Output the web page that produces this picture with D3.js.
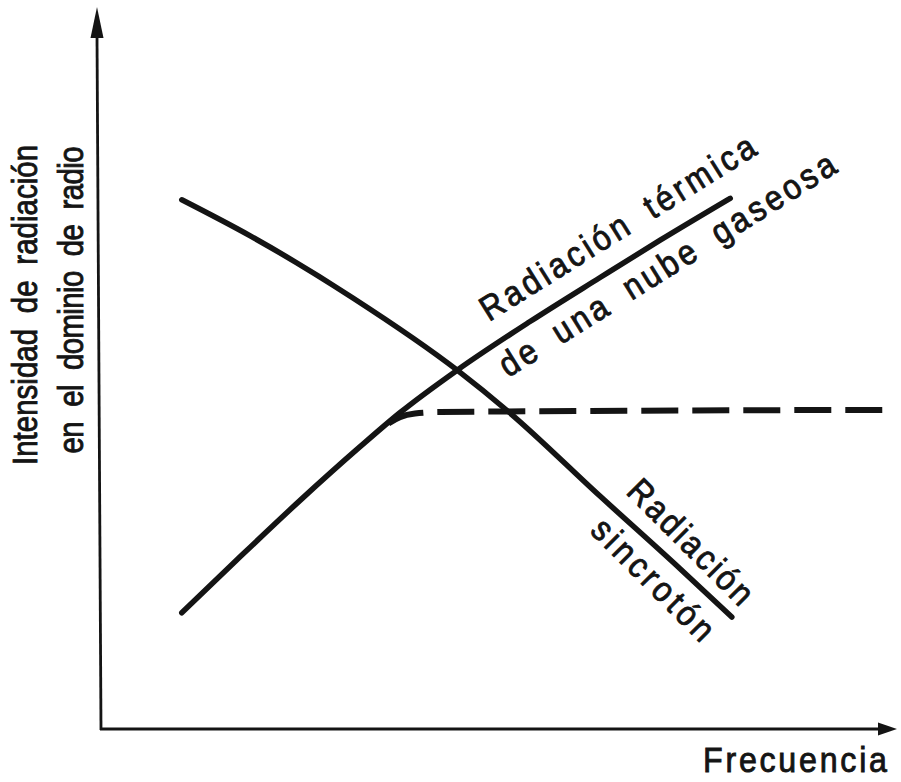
<!DOCTYPE html>
<html>
<head>
<meta charset="utf-8">
<script src="https://cdn.jsdelivr.net/npm/d3@7"></script>
<style>
  html, body { margin: 0; padding: 0; background: #fff; }
  svg { display: block; }
  text { font-family: "Liberation Sans", Arial, Helvetica, sans-serif; fill: #141414; stroke: #141414; stroke-width: 0.9px; word-spacing: 9px; }
</style>
</head>
<body>
<svg id="chart" width="901" height="782"></svg>
<script>
// Frequency on a relative 0–100 scale, intensity on a relative 0–100 scale
const synchrotronFreq      = [10.4, 19.0, 31.9, 45.0, 51.6, 62.9, 73.0, 79.5];
const synchrotronIntensity = [73.3, 68.3, 59.7, 49.7, 43.8, 32.3, 22.2, 15.5];

const thermalFreq      = [10.4, 17.3, 25.3, 32.8, 37.8, 45.0, 54.1, 62.9, 70.5, 79.3];
const thermalIntensity = [16.1, 23.4, 31.7, 39.1, 43.8, 49.7, 56.4, 62.5, 67.7, 73.5];

// Saturated (optically thick) branch of the thermal emission
const plateauFreq      = [35.9, 37.8, 39.7, 42.8, 98.4];
const plateauIntensity = [42.0, 43.2, 43.7, 43.9, 44.2];

const yTitleLines      = ["Intensidad de radiación", "en el dominio de radio"];
const xTitle           = "Frecuencia";
const thermalLines     = ["Radiación térmica", "de una nube gaseosa"];
const synchrotronLines = ["Radiación", "sincrotón"];

const svg = d3.select("#chart");
const ink = "#141414";

const x = d3.scaleLinear().domain([0, 100]).range([99, 895]);
const y = d3.scaleLinear().domain([0, 100]).range([729, 7]);

const zip = (xs, ys) => xs.map((v, i) => ({ f: v, i: ys[i] }));

const line = d3.line()
  .x(d => x(d.f))
  .y(d => y(d.i))
  .curve(d3.curveMonotoneX);

// Axes: plain lines with arrowheads, no ticks
const axes = svg.append("g").attr("stroke", ink).attr("stroke-width", 2.8).attr("fill", "none");
axes.append("line")
  .attr("x1", x(0) + 2).attr("y1", y(0) + 1)
  .attr("x2", x(0) - 2).attr("y2", y(96));
axes.append("line")
  .attr("x1", x(0) + 1).attr("y1", y(0))
  .attr("x2", x(98)).attr("y2", y(0));

const heads = svg.append("g").attr("fill", ink);
{
  const tx = x(0) - 2, ty = y(100);
  heads.append("path").attr("d", `M${tx},${ty} L${tx - 6.5},${ty + 31} L${tx + 6.5},${ty + 31} Z`);
}
{
  const tx = x(100) + 2, ty = y(0);
  heads.append("path").attr("d", `M${tx},${ty} L${tx - 19},${ty - 6.5} L${tx - 19},${ty + 6.5} Z`);
}

// Curves
const curves = svg.append("g")
  .attr("fill", "none")
  .attr("stroke", ink)
  .attr("stroke-width", 5.5)
  .attr("stroke-linecap", "round")
  .attr("stroke-linejoin", "round");

curves.append("path").attr("d", line(zip(synchrotronFreq, synchrotronIntensity)));
curves.append("path").attr("d", line(zip(thermalFreq, thermalIntensity)));

const plateau = curves.append("path")
  .attr("d", line(zip(plateauFreq, plateauIntensity)))
  .attr("stroke-width", 6)
  .attr("stroke-linecap", "butt");
{
  const L = plateau.node().getTotalLength();
  const dash = 37, gap = 14, period = dash + gap;
  const offset = (((dash - L) % period) + period) % period;
  plateau.attr("stroke-dasharray", `${dash},${gap}`).attr("stroke-dashoffset", offset);
}

// Text labels: condensed sans, stretched to each label's run length
const labels = svg.append("g").style("font-size", "35px");

function placed(str, px, py, angle, len, squeeze, anchor) {
  return labels.append("text")
    .attr("transform", `translate(${px},${py}) rotate(${angle}) scale(${squeeze},1)`)
    .attr("text-anchor", anchor || "start")
    .attr("textLength", len / squeeze)
    .attr("lengthAdjust", "spacing")
    .text(str);
}

placed(yTitleLines[0], 37, 305, -90, 320, 0.84, "middle");
placed(yTitleLines[1], 83, 300, -90, 307, 0.84, "middle");

placed(xTitle, 703, 772, 0, 184, 0.92);

placed(thermalLines[0], 489, 322, -32, 318, 0.9);
placed(thermalLines[1], 508, 378, -32, 390, 0.9);

placed(synchrotronLines[0], 625, 493, 45, 162, 0.9);
placed(synchrotronLines[1], 589, 532, 45, 158, 0.9);
</script>
</body>
</html>
